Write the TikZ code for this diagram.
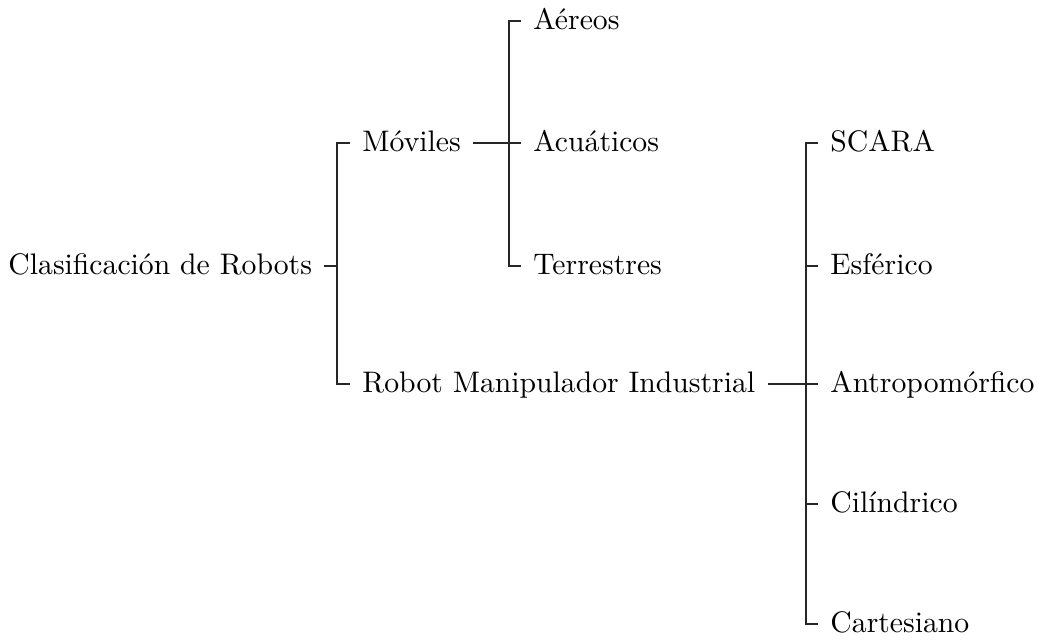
\documentclass[tikz,border=0pt]{standalone}
\usepackage{tikz}

\begin{document}
\begin{tikzpicture}[
    x=0.3367pt,
    y=-0.3367pt,
    every node/.style={anchor=west, inner xsep=4pt, inner ysep=0pt, text height=1.5ex, text depth=.25ex},
    link/.style={draw=black!85, line width=0.45pt}
]
   \useasboundingbox (0,0) rectangle (1038,639);

   % Nodes
   \node (root) at (-4,266) {Clasificación de Robots};

   \node (mov) at (350,143) {Móviles};
   \node (rob) at (350,384) {Robot Manipulador Industrial};

   \node (aer) at (521,21)  {Aéreos};
   \node (acu) at (521,143) {Acuáticos};
   \node (ter) at (521,266) {Terrestres};

   \node (sca) at (818,143) {SCARA};
   \node (esf) at (818,266) {Esférico};
   \node (ant) at (818,384) {Antropomórfico};
   \node (cil) at (818,504) {Cilíndrico};
   \node (car) at (818,624) {Cartesiano};

   % Forks
   \coordinate (f0) at (337,266);
   \coordinate (f1) at (509,143);
   \coordinate (f2) at (806,384);

   % Branches
   \path[link]
   (root.east) -- (f0) |- (mov.west)
   (root.east) -- (f0) |- (rob.west)

   (mov.east) -- (f1) |- (aer.west)
   (mov.east) -- (f1) |- (acu.west)
   (mov.east) -- (f1) |- (ter.west)

   (rob.east) -- (f2) |- (sca.west)
   (rob.east) -- (f2) |- (esf.west)
   (rob.east) -- (f2) |- (ant.west)
   (rob.east) -- (f2) |- (cil.west)
   (rob.east) -- (f2) |- (car.west);
\end{tikzpicture}
\end{document}
